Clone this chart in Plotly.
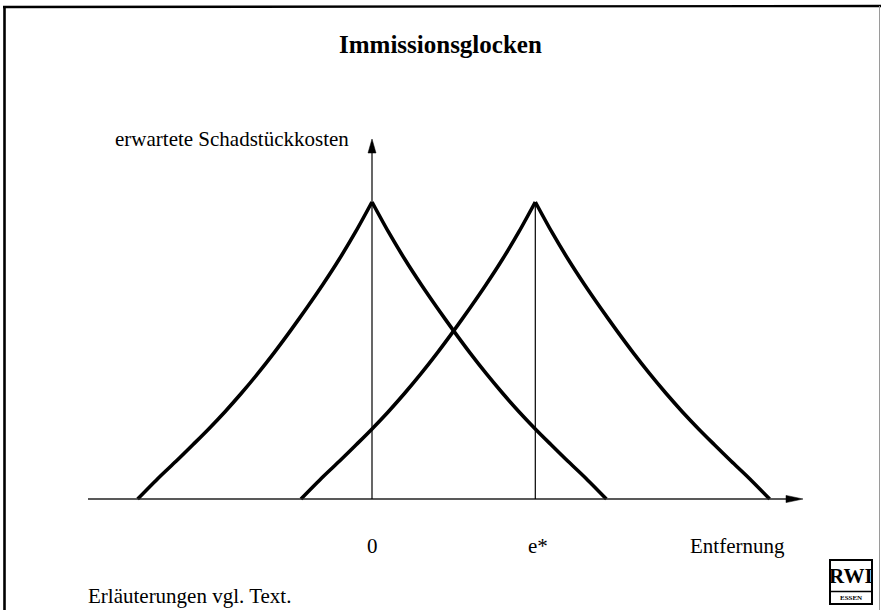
import plotly.graph_objects as go

# ---- data ----
# distance from the emission source (unit: e*), relative expected damage cost
distance = [0, 0.1, 0.2, 0.3, 0.4, 0.5, 0.6, 0.7, 0.8, 0.9, 1.0, 1.1, 1.2, 1.3, 1.435]
cost = [1.0, 0.90, 0.808, 0.723, 0.643, 0.566, 0.492, 0.422, 0.356, 0.294, 0.236, 0.181, 0.127, 0.075, 0.0]
source_positions = [0.0, 1.0]          # 0 and e*
tick_labels = ["0", "e*"]

title = "Immissionsglocken"
y_label = "erwartete Schadstückkosten"
x_label = "Entfernung"
footer = "Erläuterungen vgl. Text."

SERIF = "Liberation Serif, Times New Roman, serif"
W, H = 881, 610
# plot area = whole figure; pixel mapping: x_px = 372 + 163.3*x, y_px = 499 - 297*y
XR = [-372 / 163.3, (W - 372) / 163.3]
YR = [(499 - H) / 297, 499 / 297]
LABEL_Y = 546

fig = go.Figure()

for src in source_positions:
    # each flank drawn separately so the peak stays a sharp corner
    left_x = [src - d for d in reversed(distance)]
    right_x = [src + d for d in distance]
    for xs, ys in ((left_x, list(reversed(cost))), (right_x, cost)):
        fig.add_trace(go.Scatter(x=xs, y=ys, mode="lines",
                                 line=dict(color="black", width=3.6, shape="spline", smoothing=0.8),
                                 hoverinfo="skip", showlegend=False))

def px(xp):
    return xp / W

def py(yp):
    return 1 - yp / H

shapes = []
# x axis line + arrowhead
x_tip = (803 - 372) / 163.3
x_start = (88 - 372) / 163.3
shapes.append(dict(type="line", xref="x", yref="y", x0=x_start, x1=x_tip - 0.05, y0=0, y1=0,
                   line=dict(color="#222", width=1.6)))
shapes.append(dict(type="path", xref="x", yref="y",
                   path=f"M {x_tip} 0 L {x_tip - 17/163.3} {3.6/297} L {x_tip - 17/163.3} {-3.6/297} Z",
                   fillcolor="black", line=dict(color="black", width=0.5)))
# y axis line + arrowhead
y_tip = (499 - 139) / 297
shapes.append(dict(type="line", xref="x", yref="y", x0=0, x1=0, y0=0, y1=y_tip - 0.03,
                   line=dict(color="black", width=1.2)))
shapes.append(dict(type="path", xref="x", yref="y",
                   path=f"M 0 {y_tip} L {4/163.3} {y_tip - 14/297} L {-4/163.3} {y_tip - 14/297} Z",
                   fillcolor="black", line=dict(color="black", width=0.5)))
# vertical line at e*
shapes.append(dict(type="line", xref="x", yref="y", x0=source_positions[1], x1=source_positions[1],
                   y0=0, y1=cost[0], line=dict(color="black", width=1.2)))

# frame
shapes.append(dict(type="line", xref="paper", yref="paper", x0=px(4.5), x1=px(4.5), y0=py(6), y1=py(612),
                   line=dict(color="black", width=2.6)))
shapes.append(dict(type="line", xref="paper", yref="paper", x0=px(3), x1=px(881), y0=py(7), y1=py(6),
                   line=dict(color="black", width=2.4)))
shapes.append(dict(type="line", xref="paper", yref="paper", x0=px(879.5), x1=px(879.5), y0=py(6), y1=py(612),
                   line=dict(color="#9a9a9a", width=1)))

# RWI logo
shapes.append(dict(type="rect", xref="paper", yref="paper", x0=px(830), x1=px(872), y0=py(560), y1=py(604),
                   line=dict(color="black", width=2), fillcolor="white"))
shapes.append(dict(type="line", xref="paper", yref="paper", x0=px(830), x1=px(872), y0=py(591.5), y1=py(591.5),
                   line=dict(color="black", width=1.5)))

annotations = [
    dict(text=f"<b>{title}</b>", x=px(440), y=py(45), xref="paper", yref="paper",
         xanchor="center", yanchor="middle", showarrow=False,
         font=dict(family=SERIF, size=25, color="black")),
    dict(text=y_label, x=px(351), y=py(139), xref="paper", yref="paper",
         xanchor="right", yanchor="middle", showarrow=False,
         font=dict(family=SERIF, size=21, color="black")),
    dict(text=x_label, x=px(737), y=py(LABEL_Y), xref="paper", yref="paper",
         xanchor="center", yanchor="middle", showarrow=False,
         font=dict(family=SERIF, size=21, color="black")),
    dict(text=footer, x=px(86), y=py(596), xref="paper", yref="paper",
         xanchor="left", yanchor="middle", showarrow=False,
         font=dict(family=SERIF, size=21, color="black")),
    dict(text="<b>RWI</b>", x=px(851), y=py(576), xref="paper", yref="paper",
         xanchor="center", yanchor="middle", showarrow=False,
         font=dict(family=SERIF, size=21, color="black")),
    dict(text="<b>ESSEN</b>", x=px(851), y=py(598), xref="paper", yref="paper",
         xanchor="center", yanchor="middle", showarrow=False,
         font=dict(family=SERIF, size=7, color="black")),
]
for pos, lab in zip(source_positions, tick_labels):
    annotations.append(dict(text=lab, x=pos, y=0, xref="x", yref="y",
                            xanchor="center", yanchor="middle", yshift=-(LABEL_Y - 499),
                            xshift=3 if lab == "e*" else 0, showarrow=False,
                            font=dict(family=SERIF, size=21, color="black")))

fig.update_layout(
    width=W, height=H,
    margin=dict(l=0, r=0, t=0, b=0),
    paper_bgcolor="white", plot_bgcolor="white",
    xaxis=dict(range=XR, visible=False, fixedrange=True),
    yaxis=dict(range=YR, visible=False, fixedrange=True),
    shapes=shapes, annotations=annotations,
    showlegend=False,
)

fig.write_html("out.html", post_script="document.body.style.margin='0';",
               config={"displayModeBar": False})
